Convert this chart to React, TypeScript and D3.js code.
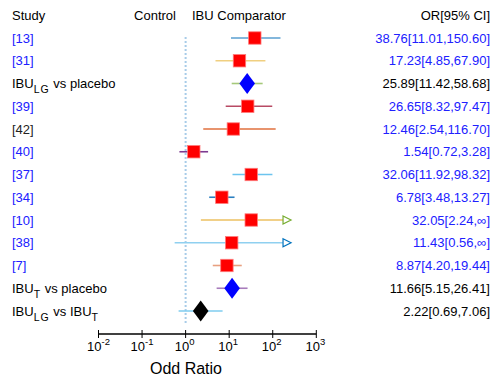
import React from 'react';
import * as d3 from 'd3';

// rows, top to bottom
const labels = ['[13]', '[31]', 'IBU_LG vs placebo', '[39]', '[42]', '[40]', '[37]', '[34]', '[10]', '[38]', '[7]', 'IBU_T vs placebo', 'IBU_LG vs IBU_T'];
const kinds = ['study', 'study', 'pooled', 'study', 'study', 'study', 'study', 'study', 'study', 'study', 'study', 'pooled', 'compare'];
const oddRatios = [38.76, 17.23, 25.89, 26.65, 12.46, 1.54, 32.06, 6.78, 32.05, 11.43, 8.87, 11.66, 2.22];
const lowerCI = [11.01, 4.85, 11.42, 8.32, 2.54, 0.72, 11.92, 3.48, 2.24, 0.56, 4.2, 5.15, 0.69];
const upperCI = [150.6, 67.9, 58.68, 97.47, 116.7, 3.28, 98.32, 13.27, Infinity, Infinity, 19.44, 26.41, 7.06];
const lineColors = ['#5a9fd0', '#f0cf80', '#a6c97a', '#b84a64', '#e0703e', '#7e3a90', '#6cc4ee', '#2a7fc0', '#edc060', '#8fd0f0', '#e8a080', '#a87cbc', '#7fcdef'];
const arrowColors = ['', '', '', '', '', '', '', '', '#77ac30', '#0072bd', '', '', ''];
const labelColors = ['#2020ff', '#2020ff', '#000', '#2020ff', '#222', '#2020ff', '#2020ff', '#2020ff', '#2020ff', '#2020ff', '#2020ff', '#000', '#000'];

const tickExps = [-2, -1, 0, 1, 2, 3];
const arrowTip = 10 ** 2.42;

const W = 494;
const H = 379;
const font = 'Liberation Sans, Arial, Helvetica, sans-serif';

const x = d3.scaleLog().domain([1e-2, 1e3]).range([98.5, 316.3]);
const y = d3.scalePoint<number>().domain(d3.range(labels.length)).range([38, 311]);

const fmt = (v: number) => (v === Infinity ? '\u221e' : v.toFixed(2));

const Label = ({ text }: { text: string }) => {
  // IBU_LG / IBU_T subscripts
  const parts = text.split(/(IBU_LG|IBU_T)/).filter((p) => p !== '');
  return (
    <>
      {parts.map((p, i) => {
        if (p.startsWith('IBU_')) {
          return (
            <React.Fragment key={i}>
              <tspan>IBU</tspan>
              <tspan dy={5} fontSize={10.5} letterSpacing={1}>{p.slice(4)}</tspan>
              <tspan dy={-5}>{'\u00a0'}</tspan>
            </React.Fragment>
          );
        }
        return <tspan key={i}>{p.replace(/^ /, '')}</tspan>;
      })}
    </>
  );
};

export default function App() {
  const axisY = 334;
  return (
    <svg width={W} height={H} style={{ position: 'fixed', left: 0, top: 0, background: '#fff' }} fontFamily={font}>
      {/* header */}
      <g fontSize={13} fill="#000">
        <text x={12} y={19.5}>Study</text>
        <text x={176} y={19.5} textAnchor="end">Control</text>
        <text x={192} y={19.5}>IBU Comparator</text>
        <text x={490} y={19.5} textAnchor="end">OR[95% CI]</text>
      </g>

      {/* reference line at OR = 1 */}
      <line x1={x(1)} x2={x(1)} y1={37} y2={325} stroke="#a8cce8" strokeWidth={2} strokeDasharray="2,2" />

      {labels.map((lab, i) => {
        const cy = y(i)!;
        const hi = upperCI[i];
        const open = hi === Infinity;
        const xEnd = open ? x(arrowTip) - 8 : x(hi);
        const cx = x(oddRatios[i]);
        const textFill = kinds[i] === 'study' ? '#2020ff' : '#000';
        return (
          <g key={i}>
            <text x={12} y={cy + 4.5} fontSize={13} fill={labelColors[i]}>
              <Label text={lab} />
            </text>
            <line x1={x(lowerCI[i])} x2={xEnd} y1={cy} y2={cy} stroke={lineColors[i]} strokeWidth={1.6} />
            {open && (
              <path
                d={`M${xEnd},${cy - 4}L${xEnd + 8},${cy}L${xEnd},${cy + 4}Z`}
                fill="#fff"
                stroke={arrowColors[i]}
                strokeWidth={1.2}
              />
            )}
            {kinds[i] === 'study' && (
              <rect x={cx - 6.2} y={cy - 6.2} width={12.4} height={12.4} fill="#ff0000" stroke="#ff7a7a" strokeWidth={0.8} />
            )}
            {kinds[i] !== 'study' && (
              <path
                d={`M${cx - 7.8},${cy}L${cx},${cy - 10.5}L${cx + 7.8},${cy}L${cx},${cy + 10.5}Z`}
                fill={kinds[i] === 'pooled' ? '#0000ff' : '#000'}
              />
            )}
            <text x={490} y={cy + 4.5} fontSize={13} fill={textFill} textAnchor="end">
              {`${oddRatios[i].toFixed(2)}[${lowerCI[i].toFixed(2)},${fmt(hi)}]`}
            </text>
          </g>
        );
      })}

      {/* x axis */}
      <line x1={x(1e-2)} x2={x(1e3)} y1={axisY} y2={axisY} stroke="#000" strokeWidth={1.5} />
      {tickExps.map((e) => (
        <g key={e}>
          <line x1={x(10 ** e)} x2={x(10 ** e)} y1={axisY - 4} y2={axisY + 4} stroke="#000" strokeWidth={1} />
          <text x={x(10 ** e) + (e < 0 ? 0 : -1)} y={351} fontSize={13} textAnchor="middle" fill="#000">
            10<tspan dy={-6} fontSize={9.5}>{e < 0 ? `-${-e}` : e}</tspan>
          </text>
        </g>
      ))}
      <text x={186} y={374} fontSize={16} textAnchor="middle" fill="#000">Odd Ratio</text>
    </svg>
  );
}
